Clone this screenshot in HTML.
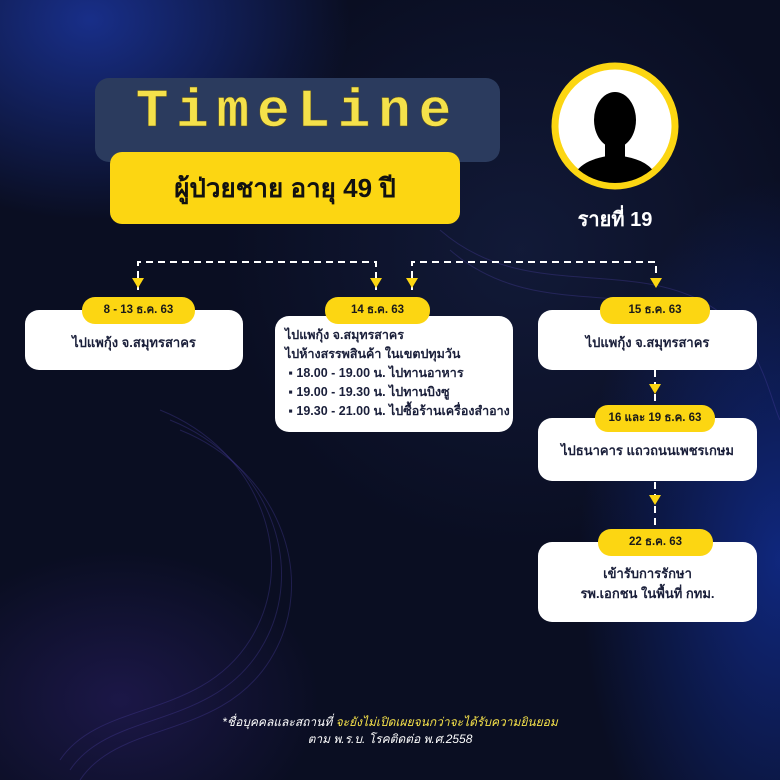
<!DOCTYPE html>
<html><head><meta charset="utf-8">
<style>
*{margin:0;padding:0;box-sizing:border-box}
body{width:780px;height:780px;overflow:hidden;position:relative;font-family:"Liberation Sans","DejaVu Sans","Noto Sans CJK SC",sans-serif;
background:
radial-gradient(ellipse 260px 200px at 90px 20px, rgba(30,60,180,0.7), transparent),
radial-gradient(ellipse 200px 380px at 780px 560px, rgba(20,60,200,0.55), transparent),
radial-gradient(ellipse 300px 300px at 520px 250px, rgba(40,60,120,0.25), transparent),
radial-gradient(ellipse 200px 150px at 120px 700px, rgba(60,40,140,0.35), transparent),
#0a0e22;}
.a{position:absolute}
.box{position:absolute;background:#fff;border-radius:14px;color:#1a1f3a;font-size:13px;font-weight:bold;white-space:nowrap}
.pill{position:absolute;background:#fcd612;border-radius:13px;height:27px;line-height:27px;text-align:center;font-size:11.5px;font-weight:bold;color:#1a1a1a}
.c{text-align:center}
</style></head><body>
<svg class="a" style="left:0;top:0" width="780" height="780">
<g fill="none" stroke="#4a3fa0" stroke-opacity="0.35" stroke-width="1">
<path d="M160 410 C260 450 300 560 250 640 C200 720 100 700 60 760"/>
<path d="M170 420 C270 460 310 570 260 650 C210 730 110 710 70 770"/>
<path d="M180 430 C280 470 320 580 270 660 C220 740 120 720 80 780"/>
<path d="M440 230 C520 300 620 260 700 300 C760 330 770 400 780 420"/>
<path d="M450 250 C530 320 630 280 710 320"/>
</g>
<g stroke="#fff" stroke-width="2" stroke-dasharray="7 5" fill="none">
<path d="M138 290 V262 H376 V290"/>
<path d="M412 290 V262 H656 V290"/>
<path d="M655 370 V410"/>
<path d="M655 482 V530"/>
</g>
<g fill="#fcd612">
<polygon points="132,278 144,278 138,288"/>
<polygon points="370,278 382,278 376,288"/>
<polygon points="406,278 418,278 412,288"/>
<polygon points="650,278 662,278 656,288"/>
<polygon points="649,384 661,384 655,394"/>
<polygon points="649,495 661,495 655,505"/>
</g>
<circle cx="615" cy="126" r="60" fill="#fff" stroke="#fcd612" stroke-width="7"/>
<clipPath id="cc"><circle cx="615" cy="126" r="57"/></clipPath>
<g clip-path="url(#cc)" fill="#000">
<ellipse cx="615" cy="120" rx="21" ry="28"/>
<rect x="605" y="140" width="20" height="18"/>
<path d="M570 190 C572 165 590 158 615 155 C640 158 658 165 660 190 Z"/>
</g>
</svg>
<div class="a" style="left:95px;top:78px;width:405px;height:84px;background:#2b3b5e;border-radius:14px"></div>
<div class="a c" style="left:95px;top:82px;width:405px;font-family:'Liberation Mono',monospace;font-size:54px;color:#f5e14a;letter-spacing:8px;font-weight:bold;-webkit-text-stroke:0.5px #5a5020">TimeLine</div>
<div class="a c" style="left:110px;top:152px;width:350px;height:72px;background:#fcd612;border-radius:12px;line-height:72px;font-size:26px;font-weight:bold;color:#111">ผู้ป่วยชาย อายุ 49 ปี</div>
<div class="a c" style="left:560px;top:203px;width:110px;font-size:20px;font-weight:bold;color:#fff">รายที่ 19</div>

<div class="box c" style="left:25px;top:310px;width:218px;height:60px;padding-top:22px">ไปแพกุ้ง จ.สมุทรสาคร</div>
<div class="pill" style="left:82px;top:297px;width:113px">8 - 13 ธ.ค. 63</div>

<div class="box" style="left:275px;top:316px;width:238px;height:116px;padding:10px 0 0 10px;line-height:19px;font-size:12.5px">ไปแพกุ้ง จ.สมุทรสาคร<br>ไปห้างสรรพสินค้า ในเขตปทุมวัน<br>&nbsp;▪ 18.00 - 19.00 น. ไปทานอาหาร<br>&nbsp;▪ 19.00 - 19.30 น. ไปทานบิงซู<br>&nbsp;▪ 19.30 - 21.00 น. ไปซื้อร้านเครื่องสำอาง</div>
<div class="pill" style="left:325px;top:297px;width:105px">14 ธ.ค. 63</div>

<div class="box c" style="left:538px;top:310px;width:219px;height:60px;padding-top:22px">ไปแพกุ้ง จ.สมุทรสาคร</div>
<div class="pill" style="left:600px;top:297px;width:110px">15 ธ.ค. 63</div>

<div class="box c" style="left:538px;top:418px;width:219px;height:63px;padding-top:22px">ไปธนาคาร แถวถนนเพชรเกษม</div>
<div class="pill" style="left:595px;top:405px;width:120px">16 และ 19 ธ.ค. 63</div>

<div class="box c" style="left:538px;top:542px;width:219px;height:80px;padding-top:22px;line-height:20px">เข้ารับการรักษา<br>รพ.เอกชน ในพื้นที่ กทม.</div>
<div class="pill" style="left:598px;top:529px;width:115px">22 ธ.ค. 63</div>

<div class="a c" style="left:150px;top:714px;width:480px;font-size:12px;font-style:italic;color:#fff;line-height:17px">*ชื่อบุคคลและสถานที่ <span style="color:#f5e14a">จะยังไม่เปิดเผยจนกว่าจะได้รับความยินยอม</span><br>ตาม พ.ร.บ. โรคติดต่อ พ.ศ.2558</div>
</body></html>
